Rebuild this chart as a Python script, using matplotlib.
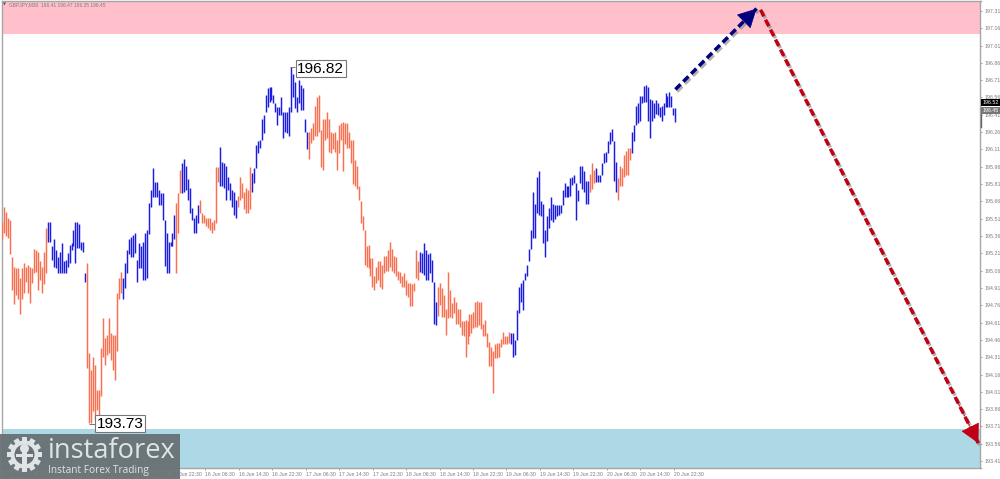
import numpy as np
import matplotlib
matplotlib.use("Agg")
import matplotlib.pyplot as plt
import matplotlib.patches as patches
import matplotlib.patheffects as pe
from matplotlib.lines import Line2D

# bars grouped in runs of one colour, runs alternate red / blue, first run is red
run_highs = [
    [195.48,195.61,195.57,195.52,195.50,195.18,195.09,195.08,195.08,195.00,195.08,195.13,195.09,195.11,195.09,195.08,195.25,195.24,195.22,195.14,195.09,195.22,195.43],
    [195.48,195.48,195.27,195.33,195.24,195.18,195.22,195.30,195.14,195.15,195.21,195.28,195.30,195.41,195.48,195.48,195.46,195.31,195.31,195.04],
    [195.13,194.35,194.20,194.31,194.24,194.03,194.03,194.39,194.65,194.48,194.50,194.65,194.52,194.50,194.50,194.87,195.00,195.05],
    [195.00,195.13,195.24,195.33,195.35,195.37,195.39,195.15,195.30,195.27,195.31,195.39,195.41,195.65,195.76,195.95,195.83,195.83,195.76,195.73,195.73,195.50,195.39,195.31,195.31,195.39,195.54],
    [195.65,195.73,195.93],
    [195.99,196.03,195.97,195.85,195.78,195.60,195.52,195.54,195.63],
    [195.67,195.56,195.54,195.52,195.52,195.52,195.48,195.50,195.96,195.96],
    [196.13,196.00,195.99,195.97,195.87,195.82,195.76,195.74,195.67],
    [195.71,195.87,195.82,195.74,195.78,195.76,195.96],
    [195.91,195.95,196.15,196.18,196.19,196.37,196.41,196.58,196.64,196.65,196.65,196.58,196.51,196.48,196.48,196.56,196.43,196.43,196.43,196.48,196.82,196.76,196.69,196.56,196.71,196.67,196.64,196.37,196.26],
    [196.26,196.30,196.34,196.49,196.56,196.58,196.28,196.37,196.37,196.43,196.37,196.26,196.25,196.26,196.19,196.32,196.34,
     196.35,196.34,196.34,196.26,196.19,196.19,196.02,195.97,195.79,195.66,195.53,195.41,195.27,195.28,195.17,195.17,195.01,195.09,195.14,195.14,195.11,195.19,195.19,195.24,195.31,195.25,195.19,195.18,195.06,195.05,195.01,195.04,194.98,194.95,194.95,194.94,194.95,195.24,195.14],
    [195.22,195.21,195.30,195.24,195.20,195.21,195.15,194.96,194.79],
    [194.92,194.95,194.91,194.85,194.73,195.05,194.89,194.78,194.83,194.79,194.73,194.73,194.62,194.62,194.63,194.62,194.68,194.68,194.70,194.79,194.80,194.79,194.79,194.60,194.63,194.52,194.44,194.40,194.36,194.42,194.43,194.43,194.47,194.53,194.49,194.49,194.53],
    [194.52,194.52,194.46,194.72,194.92,194.95,194.98,195.04,195.11,195.25,195.41,195.74,195.64,195.87,195.92,195.66,195.64,195.41,195.53,195.60,195.70,195.64,195.63,195.63,195.63,195.63,195.76,195.82,195.79,195.79,195.86,195.87,195.89,195.82,195.76,195.97,195.97,195.92,195.84,195.84],
    [195.90,195.99,195.93],
    [195.95,195.89,195.89,195.99,196.08,196.09,196.18,196.26,196.29,196.18,196.00],
    [195.86,195.97,195.95,196.06,196.10,196.12,196.12],
    [196.26,196.32,196.49,196.51,196.57,196.57,196.66,196.67,196.65,196.55,196.54,196.51,196.54,196.51,196.48,196.49,196.51,196.60,196.57,196.61,196.57,196.47,196.47],
]
run_lows = [
    [195.33,195.39,195.36,195.34,195.20,194.89,194.77,194.85,194.81,194.68,194.81,194.87,194.96,194.87,194.78,194.95,195.04,195.05,194.89,194.98,194.87,194.94,195.04],
    [195.31,195.31,195.15,195.09,195.08,195.04,195.04,195.04,195.04,195.04,195.09,195.13,195.24,195.27,195.13,195.26,195.26,195.24,195.22,194.96],
    [194.22,193.74,193.74,193.84,193.77,193.85,193.77,193.97,194.31,194.24,194.33,194.35,194.29,194.20,194.11,194.36,194.81,194.87],
    [194.81,194.91,195.04,195.20,195.18,195.18,195.21,194.96,195.08,195.08,194.98,194.98,195.00,195.38,195.61,195.70,195.70,195.70,195.63,195.63,195.50,195.10,195.04,195.04,195.27,195.27,195.33],
    [195.04,195.39,195.73],
    [195.73,195.74,195.76,195.67,195.56,195.50,195.39,195.39,195.47],
    [195.56,195.47,195.47,195.45,195.43,195.41,195.39,195.41,195.47,195.83],
    [195.79,195.79,195.78,195.67,195.76,195.67,195.61,195.54,195.52],
    [195.61,195.67,195.69,195.59,195.56,195.56,195.59],
    [195.74,195.82,195.95,196.08,196.12,196.19,196.25,196.43,196.48,196.52,196.54,196.51,196.43,196.32,196.41,196.41,196.21,196.26,196.25,196.23,196.43,196.56,196.47,196.43,196.51,196.45,196.45,196.26,196.11],
    [196.03,196.17,196.19,196.23,196.23,196.26,195.96,195.93,196.19,196.21,196.09,196.08,196.11,196.09,195.93,196.08,196.19,
     195.92,196.16,196.12,196.12,195.99,195.81,195.79,195.77,195.67,195.47,195.41,195.11,195.09,195.08,195.01,194.92,194.89,194.95,194.98,194.92,194.90,195.04,195.06,195.06,195.09,195.06,195.04,195.01,194.98,194.95,194.92,194.92,194.85,194.83,194.75,194.75,194.88,195.00,194.98],
    [195.05,195.04,195.02,194.98,194.98,195.04,194.96,194.60,194.59],
    [194.67,194.76,194.66,194.66,194.50,194.65,194.66,194.65,194.69,194.60,194.60,194.57,194.50,194.49,194.31,194.42,194.49,194.52,194.56,194.57,194.57,194.59,194.55,194.49,194.49,194.40,194.23,194.23,194.00,194.30,194.30,194.31,194.40,194.42,194.42,194.42,194.43],
    [194.42,194.31,194.33,194.46,194.69,194.79,194.72,194.98,195.01,195.14,195.25,195.34,195.34,195.56,195.54,195.53,195.30,195.18,195.32,195.43,195.50,195.48,195.51,195.53,195.54,195.56,195.63,195.70,195.70,195.70,195.71,195.80,195.82,195.50,195.66,195.82,195.77,195.74,195.64,195.64],
    [195.74,195.77,195.82],
    [195.83,195.83,195.83,195.89,195.99,196.00,196.08,196.16,196.18,195.84,195.74],
    [195.67,195.79,195.79,195.87,195.89,195.89,196.02],
    [196.08,196.18,196.32,196.34,196.36,196.51,196.52,196.52,196.36,196.21,196.36,196.38,196.42,196.41,196.39,196.36,196.41,196.48,196.48,196.48,196.48,196.41,196.35],
]

y_ticks = [197.31,197.16,197.01,196.86,196.71,196.56,196.41,196.26,196.11,195.96,195.81,195.66,195.51,195.36,195.21,
           195.06,194.91,194.76,194.61,194.46,194.31,194.16,194.01,193.86,193.71,193.56,193.41]
time_labels = ["12 Jun 2022","14 Jun 14:30","14 Jun 22:30","15 Jun 06:30","15 Jun 14:30","15 Jun 22:30",
               "16 Jun 06:30","16 Jun 14:30","16 Jun 22:30","17 Jun 06:30","17 Jun 14:30","17 Jun 22:30","18 Jun 06:30",
               "18 Jun 14:30","18 Jun 22:30","19 Jun 06:30","19 Jun 14:30","19 Jun 22:30","20 Jun 06:30","20 Jun 14:30","20 Jun 22:30"]

sell_zone = (197.106, 197.40)
buy_zone = (193.35, 193.69)
up_forecast_x = [340, 381]
up_forecast_y = [196.63, 197.33]
down_forecast_x = [383, 493]
down_forecast_y = [197.32, 193.565]
swing_high = 196.82
swing_low = 193.73

RED = "#f8704f"
BLUE = "#1c1ce0"
GREY = "#7c7c7c"
W, H = 1000, 479

fig = plt.figure(figsize=(10, 4.79), dpi=100, facecolor="white")
ax = fig.add_axes([1.5/W, (H-468)/H, 979/W, 467/H])

i = 0
for n, (hi, lo) in enumerate(zip(run_highs, run_lows)):
    x = np.arange(i, i + len(hi))
    ax.vlines(x, lo, hi, color=RED if n % 2 == 0 else BLUE, lw=1.05, zorder=3)
    i += len(hi)

px_per_bar = 1.98
ax.set_xlim(-0.7/px_per_bar, 979/px_per_bar - 0.7/px_per_bar)
ax.set_ylim(193.35, 197.396)

ax.axhspan(sell_zone[0], sell_zone[1], color="#ffc0cb", lw=0, zorder=1)
ax.axhspan(buy_zone[0], buy_zone[1], color="#add8e6", lw=0, zorder=1)

for s in ax.spines.values():
    s.set_color("#a6a6a6")
    s.set_linewidth(1.0)

ax.yaxis.tick_right()
ax.set_yticks(y_ticks)
ax.set_yticklabels([f"{v:.2f}" for v in y_ticks], fontsize=3.8, color=GREY, family="Liberation Sans")
ax.tick_params(axis="y", length=1.5, width=0.5, color=GREY, pad=1.2)

tick_x = [(2.5 + 33.45*k)/px_per_bar for k in range(len(time_labels))]
ax.set_xticks(tick_x)
ax.set_xticklabels(time_labels, fontsize=3.7, color=GREY, family="Liberation Sans", ha="left")
ax.tick_params(axis="x", length=1.5, width=0.5, color=GREY, pad=1.2)

# forecast arrows
shadow = [pe.SimpleLineShadow(offset=(1.2, -1.5), shadow_color="#909090", alpha=0.7), pe.Normal()]
def forecast_arrow(xv, yv, color):
    ax.plot(xv, yv, color=color, lw=2.5, dashes=(2.1, 1.1), dash_capstyle="butt", zorder=5,
            path_effects=shadow)
    dx = xv[1] - xv[0]
    dy = yv[1] - yv[0]
    ax.annotate("", xy=(xv[1], yv[1]), xytext=(xv[1] - 0.1*dx, yv[1] - 0.1*dy), zorder=6,
                arrowprops=dict(arrowstyle="-|>,head_length=0.95,head_width=0.5", color=color, lw=0.5,
                                mutation_scale=13, shrinkA=0, shrinkB=0))

forecast_arrow(up_forecast_x, up_forecast_y, "#00007e")
forecast_arrow(down_forecast_x, down_forecast_y, "#c00014")

# labels on the swing points
box = dict(boxstyle="square,pad=0.1", fc="white", ec="#777777", lw=0.8)
ax.text(318.5/px_per_bar, swing_high - 0.01, f"{swing_high:.2f}", fontsize=11.1, family="Liberation Sans",
        color="black", ha="center", va="center", bbox=box, zorder=7)
ax.text(118/px_per_bar, swing_low + 0.005, f"{swing_low:.2f}", fontsize=11.1, family="Liberation Sans",
        color="black", ha="center", va="center", bbox=box, zorder=7)
ax.hlines(swing_high, 288/px_per_bar, 293/px_per_bar, color="#777777", lw=0.7, zorder=4)
ax.hlines(swing_low, 87/px_per_bar, 93/px_per_bar, color="#777777", lw=0.7, zorder=4)

# header and price tags
fig.text(9/W, 1 - 5/H, "GBPJPY,M30  196.41 196.47 196.35 196.45", fontsize=3.5, color=GREY,
         family="Liberation Sans", ha="left", va="center")
fig.text(3/W, 1 - 5/H, "\u25bc", fontsize=2.8, color="#555555", ha="left", va="center")
fig.text(982.5/W, 1 - 102.5/H, "196.52", fontsize=3.8, color="white", family="Liberation Sans", va="center",
         bbox=dict(boxstyle="square,pad=0.25", fc="black", ec="none"), zorder=8)
fig.text(982.5/W, 1 - 110.5/H, "196.45", fontsize=3.8, color="white", family="Liberation Sans", va="center",
         bbox=dict(boxstyle="square,pad=0.25", fc="#777777", ec="none"), zorder=8)
fig.add_artist(Line2D([980.5/W, 980.5/W], [1 - 108/H, 1 - 127/H], color="#666666", lw=1.0))

# watermark
logo = fig.add_axes([0, 0, 180/W, 45/H], zorder=10)
logo.set_xlim(0, 180)
logo.set_ylim(45, 0)
logo.patch.set_facecolor("#687175")
logo.patch.set_alpha(0.95)
logo.set_xticks([])
logo.set_yticks([])
for s in logo.spines.values():
    s.set_visible(False)
LOGO_FG = "#dfe4e6"
cx, cy = 24.5, 20.5
for a in np.arange(0, 360, 30):
    t = patches.Rectangle((cx - 2.6, cy - 17.5), 5.2, 6, fc=LOGO_FG, ec="none",
                          transform=matplotlib.transforms.Affine2D().rotate_deg_around(cx, cy, a) + logo.transData)
    logo.add_patch(t)
logo.add_patch(patches.Circle((cx, cy), 14, fc=LOGO_FG, ec="none"))
logo.add_patch(patches.Circle((cx, cy), 10, fc="#687175", ec="none"))
logo.add_patch(patches.Circle((cx, cy - 6), 4.5, fc=LOGO_FG, ec="none"))
logo.add_patch(patches.Rectangle((cx - 2.3, cy - 3), 4.6, 17, fc=LOGO_FG, ec="none"))
logo.add_patch(patches.Rectangle((cx - 8.5, cy - 1), 17, 3, fc=LOGO_FG, ec="none"))
logo.text(47.5, 17, "instaforex", fontsize=19.6, color=LOGO_FG, family="Open Sans", ha="left", va="center")
logo.text(48, 36.5, "Instant Forex Trading", fontsize=7.3, color=LOGO_FG, family="Open Sans", ha="left", va="center")

fig.savefig("out.png", dpi=100)
